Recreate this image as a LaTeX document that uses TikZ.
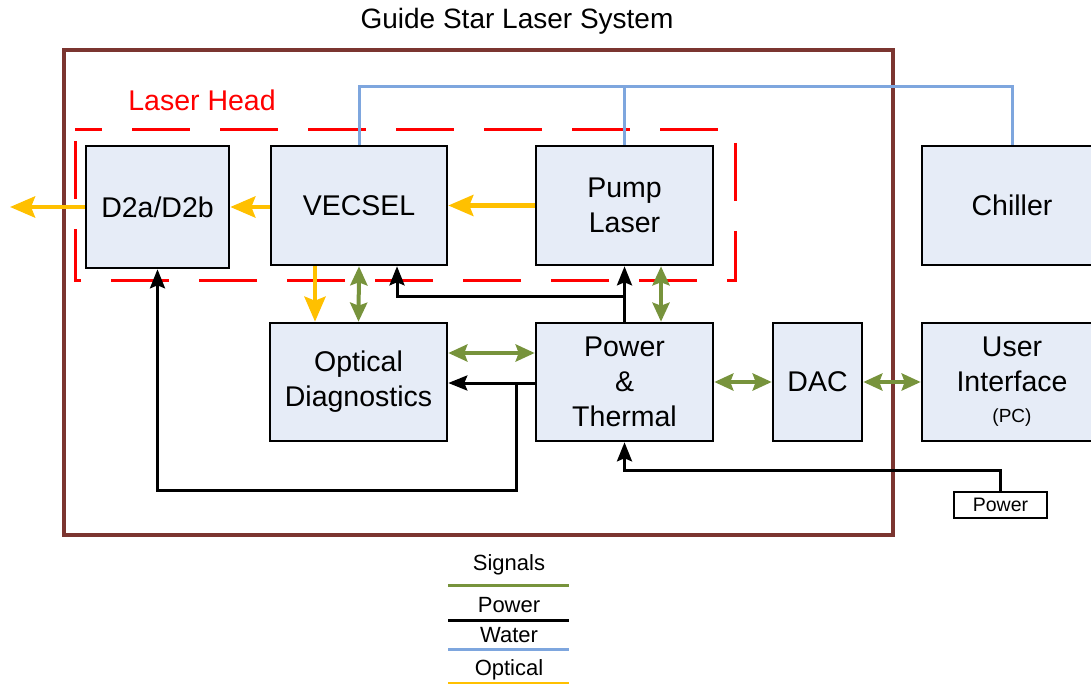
\documentclass[tikz,border=0pt]{standalone}
\usepackage{fontspec}
\setmainfont{Liberation Sans}
\usetikzlibrary{arrows.meta}
\definecolor{boxfill}{HTML}{E6ECF7}
\definecolor{optc}{HTML}{FFC000}
\definecolor{sigc}{HTML}{77933C}
\definecolor{watc}{HTML}{7EA6DE}
\definecolor{frame}{HTML}{7B3530}
\tikzset{
  blk/.style={draw=black, line width=2.6pt, fill=boxfill, align=center,
    font=\fontsize{28.5}{35}\selectfont, inner sep=0pt},
  opt/.style={draw=optc, line width=4.5pt, -{Stealth[length=25pt,width=21pt,inset=4pt]}},
  sig/.style={draw=sigc, line width=4pt, {Stealth[length=19pt,width=17pt,inset=3pt]}-{Stealth[length=19pt,width=17pt,inset=3pt]}},
  pw/.style={draw=black, line width=3pt, -{Stealth[length=19pt,width=15pt,inset=3pt]}},
  wat/.style={draw=watc, line width=3pt},
  lgd/.style={font=\fontsize{22}{24}\selectfont, inner sep=0pt}
}
\begin{document}
\begin{tikzpicture}[x=1pt,y=-1pt]
\useasboundingbox (0,0) rectangle (1091,684);
% title
\node[font=\fontsize{28}{30}\selectfont] (title) at (517,21) {Guide Star Laser System};
% outer frame
\draw[frame, line width=3.2pt] (64,50) rectangle (893,535);
% laser head
\node[red, font=\fontsize{28.5}{30}\selectfont] (lh) at (202,100) {Laser Head};
\draw[red, line width=3pt, dash pattern=on 58pt off 30pt, dash phase=31pt] (75,130) -- (735,130) -- (735,281) -- (75,281) -- cycle;
% boxes
\node[blk, minimum width=143pt, minimum height=122pt] (d2) at (157.5,207) {D2a/D2b};
\node[blk, minimum width=176pt, minimum height=119pt] (vecsel) at (359,205.5) {VECSEL};
\node[blk, minimum width=177pt, minimum height=119pt] (pump) at (624.5,205.5) {Pump\\Laser};
\node[blk, minimum width=180pt, minimum height=119pt] (chiller) at (1012,205.5) {Chiller};
\node[blk, minimum width=177pt, minimum height=118pt] (optdiag) at (358.5,382) {Optical\\Diagnostics};
\node[blk, minimum width=177pt, minimum height=118pt] (pt) at (624.5,382) {Power\\\&\\Thermal};
\node[blk, minimum width=89pt, minimum height=118pt] (dac) at (817.5,382) {DAC};
\node[blk, minimum width=180pt, minimum height=118pt] (ui) at (1012,382) {User\\Interface\\[-4pt]{\fontsize{19}{20}\selectfont(PC)}};
\node[draw=black, line width=1.3pt, fill=white, minimum width=93pt, minimum height=26pt, inner sep=0pt, font=\fontsize{19.5}{21}\selectfont] (pwrbox) at (1000.5,505) {Power};
% water
\coordinate (w1) at (624.5,87);
\draw[wat] (vecsel.north) |- (w1) -| (chiller.north);
\draw[wat] (w1) -- (pump.north);
% optical
\coordinate (out) at (10,207);
\draw[opt] (pump.west) -- (vecsel.east);
\draw[opt] ([yshift=-1.5pt]vecsel.west) -- (d2.east);
\draw[opt] (d2.west) -- (out);
\draw[opt] ([xshift=-44pt]vecsel.south) -- ([xshift=-43.5pt]optdiag.north);
% signals
\draw[sig] (vecsel.south) -- (optdiag.north);
\draw[sig] ([xshift=36.5pt]pump.south) -- ([xshift=36.5pt]pt.north);
\draw[sig] ([yshift=29pt]optdiag.east) -- ([yshift=29pt]pt.west);
\draw[sig] (pt.east) -- (dac.west);
\draw[sig] (dac.east) -- (ui.west);
% power
\coordinate (j1) at (624.5,297);
\coordinate (j2) at (516,383);
\draw[pw] (pt.north) -- (pump.south);
\draw[pw] (j1) -| ([xshift=38pt]vecsel.south);
\draw[pw] ([yshift=-1pt]pt.west) -- ([yshift=-1pt]optdiag.east);
\draw[pw] (j2) -- (516,490) -| (d2.south);
\draw[pw] (pwrbox.north) |- ([yshift=-28pt]pt.south) -- (pt.south);
% legend
\node[lgd] (ls) at (509,565) {Signals};
\node[lgd] (lp) at (509,605) {Power};
\node[lgd] (lw) at (509,635) {Water};
\node[lgd] (lo) at (509,670) {Optical};
\draw[sigc, line width=3pt] (448,585) -- (569,585);
\draw[black, line width=3pt] (448,620) -- (569,620);
\draw[watc, line width=3pt] (448,649) -- (569,649);
\draw[optc, line width=3pt] (448,683) -- (569,683);
\end{tikzpicture}
\end{document}
